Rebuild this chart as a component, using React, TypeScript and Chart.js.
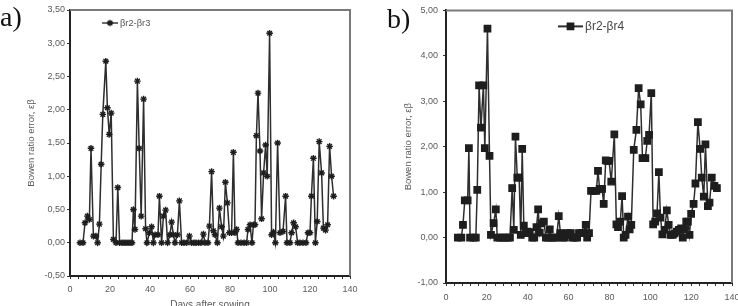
import { useEffect, useRef } from "react";
import { Chart, registerables } from "chart.js";
import { drawPoint } from "chart.js/helpers";

Chart.register(...registerables);

// Series a): βr2-βr3
const daysA = [
  5, 6.5, 7.5, 8.7, 9.7, 10.5, 11.7, 13.0, 13.8, 14.7, 15.6, 16.4, 17.9, 18.7, 19.6, 20.6,
  21.7, 23.0, 23.9, 24.8, 26, 27, 28, 29, 30, 31, 31.7, 32.5, 33.7, 34.6, 35.6, 36.8, 37.8,
  38.5, 39.7, 40.8, 41.7, 42.5, 44, 44.7, 45.8, 46.7, 47.8, 48.8, 50, 50.8, 51.7, 52.5, 53.7,
  54.7, 55.8, 57, 58.3, 59.7, 60.8, 62, 63, 64.3, 65.5, 66.7, 67.5, 69, 69.7, 70.8, 71.7, 72.5,
  73.7, 74.7, 75.8, 76.7, 77.7, 78.7, 79.7, 80.8, 81.7, 82.5, 83.3, 84, 85.5, 87, 88.3, 89, 90,
  91, 91.7, 92.5, 93.2, 94, 95, 95.8, 96.8, 97.8, 98.6, 99.8, 100.8, 101.7, 102.7, 103.8, 105,
  106.5, 107.8, 108.5, 110, 110.8, 111.8, 112.8, 113.8, 115, 116.5, 118, 119, 120, 120.7, 121.7,
  122.7, 123.6, 124.6, 125.8, 126.7, 127.8, 128.8, 129.8, 130.8, 131.8,
];
const errA = [
  0, 0, 0.3, 0.4, 0.35, 1.42, 0.1, 0.1, 0, 0.28, 1.18, 1.93, 2.73, 2.03, 1.63, 1.95,
  0.05, 0, 0.83, 0, 0, 0, 0, 0, 0, 0, 0.5, 0.2, 2.43, 1.42, 0.4, 2.16, 0.21,
  0, 0.15, 0.24, 0, 0.12, 0.12, 0.7, 0, 0.4, 0.49, 0, 0.12, 0.31, 0.12, 0, 0.12,
  0.63, 0, 0, 0, 0.1, 0, 0, 0, 0, 0, 0.13, 0, 0, 0.25, 1.07, 0.18, 0.12,
  0, 0.52, 0.24, 0.1, 0.91, 0.6, 0.15, 0.15, 1.36, 0.15, 0.2, 0, 0, 0, 0, 0.2, 0.27,
  0, 0.27, 0.27, 1.61, 2.25, 1.38, 0.36, 1.05, 1.47, 1.0, 3.15, 0.12, 0.16, 0, 1.5, 0.15,
  0.17, 0.7, 0, 0, 0.15, 0.3, 0.24, 0, 0, 0, 0, 0.15, 0.15, 0.7, 1.27,
  0, 0.32, 1.52, 1.05, 0.22, 0.19, 0.27, 1.45, 1.0, 0.7,
];

// Series b): βr2-βr4
const daysB = [
  5.8, 7.5, 8.3, 9.2, 10.6, 11.2, 11.8, 13.4, 14.6, 15.3, 16.2, 17.1, 18.3, 19.0, 20.3, 21.3,
  22.0, 23.3, 24.4, 25.1, 26.5, 27.8, 29.0, 30.3, 31.3, 32.4, 33.2, 34.0, 34.9, 35.8, 36.6,
  37.3, 38.1, 39.1, 39.9, 41.0, 42.2, 43.2, 44.3, 45.1, 45.9, 46.7, 47.9, 48.9, 50.0, 50.8,
  51.6, 52.8, 54.1, 55.2, 56.0, 57.0, 58.1, 59.3, 60.1, 61.1, 61.9, 63.0, 64.2, 65.1, 66.3,
  67.4, 68.4, 69.1, 70.0, 71.0, 72.3, 73.6, 74.4, 75.2, 76.4, 77.2, 78.2, 79.0, 79.8, 80.9,
  82.4, 83.4, 84.2, 85.3, 86.2, 87.0, 87.9, 89.1, 89.9, 90.7, 91.9, 93.2, 94.3, 95.3, 96.2,
  97.6, 98.5, 99.4, 100.5, 101.4, 102.4, 103.3, 104.2, 105.0, 105.9, 107.0, 108.1, 109.0,
  109.9, 111.0, 111.9, 113.0, 114.0, 115.1, 115.9, 116.8, 117.6, 118.4, 119.2, 120.0, 121.2,
  122.1, 123.3, 124.4, 125.2, 126.2, 127.0, 128.2, 129.0, 130.1, 131.4, 132.6,
];
const errB = [
  0, 0, 0.28, 0.82, 0.82, 1.97, 0, 0, 0, 1.05, 3.35, 2.42, 3.35, 1.97, 4.6, 1.8,
  0.06, 0.32, 0.62, 0, 0, 0, 0, 0, 0, 1.09, 0.17, 2.22, 1.32, 1.32, 0.06,
  1.95, 0.26, 0.1, 0.13, 0.12, 0, 0, 0.23, 0.62, 0.11, 0.31, 0.35, 0, 0, 0.18,
  0, 0, 0, 0.47, 0.1, 0, 0, 0.1, 0.06, 0.1, 0, 0, 0, 0.1, 0.1,
  0.1, 0.28, 0, 0.1, 1.03, 1.03, 1.03, 1.47, 1.07, 1.07, 0.74, 1.7, 1.69, 1.69, 1.23,
  2.27, 0.29, 0.23, 0.35, 0.91, 0, 0.06, 0.46, 0.18, 0.28, 1.93, 2.37, 3.29, 2.93, 1.75,
  1.75, 2.13, 2.26, 3.18, 0.29, 0.35, 0.53, 1.44, 0.44, 0.07, 0.17, 0.6, 0.28,
  0.06, 0.06, 0.09, 0.13, 0.17, 0.2, 0, 0.18, 0.35, 0.35, 0.06, 0.52, 0.74,
  1.19, 2.54, 1.95, 1.32, 0.9, 2.05, 0.69, 0.77, 1.32, 1.14, 1.09,
];

const labelA = "βr2-βr3";
const labelB = "βr2-βr4";
const yTitle = "Bowen ratio error, εβ";
const xTitle = "Days after sowing";

const FONT = '"Liberation Sans", Arial, sans-serif';
const TICK_COLOR = "#5a5a5a";

const commaDecimal = (v: number) => v.toFixed(2).replace(".", ",");

// Draws the grey top/right frame edges and a small legend inside the plot area.
const frameAndLegend = {
  id: "frameAndLegend",
  afterDatasetsDraw(chart: any, _args: any, opts: any) {
    const { ctx, chartArea: a } = chart;
    ctx.save();
    ctx.strokeStyle = opts.frameColor;
    ctx.lineWidth = 2;
    ctx.beginPath();
    ctx.moveTo(a.left, a.top);
    ctx.lineTo(a.right, a.top);
    ctx.lineTo(a.right, a.bottom);
    ctx.stroke();

    const ds = chart.data.datasets[0];
    const lx = a.left + opts.x;
    const ly = a.top + opts.y;
    ctx.strokeStyle = ds.borderColor;
    ctx.lineWidth = opts.lineWidth;
    ctx.beginPath();
    ctx.moveTo(lx, ly);
    ctx.lineTo(lx + opts.len, ly);
    ctx.stroke();
    ctx.fillStyle = ds.pointBackgroundColor;
    ctx.strokeStyle = ds.pointBorderColor;
    ctx.lineWidth = ds.pointBorderWidth;
    drawPoint(ctx, { pointStyle: ds.pointStyle, radius: ds.pointRadius, rotation: 0, borderWidth: ds.pointBorderWidth }, lx + opts.len / 2, ly);
    ctx.fillStyle = opts.textColor;
    ctx.font = `${opts.fontSize}px ${FONT}`;
    ctx.textBaseline = "middle";
    ctx.textAlign = "left";
    ctx.fillText(ds.label, lx + opts.len + 2, ly + 0.5);
    ctx.restore();
  },
};

type PanelProps = {
  label: string;
  days: number[];
  values: number[];
  yMin: number;
  yMax: number;
  yStep: number;
  width: number;
  height: number;
  plotLeft: number;
  plotRight: number;
  plotBottom: number;
  yTitleX: number;
  yTickPad: number;
  xTickPad: number;
  pointStyle: string;
  pointRadius: number;
  legend: { x: number; y: number; len: number; fontSize: number; textColor: string; lineWidth: number };
};

function Panel(p: PanelProps) {
  const ref = useRef<HTMLCanvasElement | null>(null);

  useEffect(() => {
    if (!ref.current) return;
    const titleFont = { family: FONT, size: 9.5 };
    const chart = new Chart(ref.current, {
      type: "line",
      data: {
        datasets: [
          {
            label: p.label,
            data: p.days.map((d, i) => ({ x: d, y: p.values[i] })),
            borderColor: "#2e2e2e",
            borderWidth: 1.5,
            pointStyle: p.pointStyle as any,
            pointRadius: p.pointRadius,
            pointBorderWidth: 1.4,
            pointBackgroundColor: "#1e1e1e",
            pointBorderColor: "#1e1e1e",
            tension: 0,
          } as any,
        ],
      },
      options: {
        animation: false,
        responsive: false,
        maintainAspectRatio: false,
        events: [],
        layout: { padding: { left: 0, top: 10, right: p.width - p.plotRight, bottom: 0 } },
        plugins: {
          legend: { display: false },
          tooltip: { enabled: false },
          frameAndLegend: { frameColor: "#7a7a7a", ...p.legend },
        } as any,
        scales: {
          x: {
            type: "linear",
            min: 0,
            max: 140,
            ticks: {
              stepSize: 4,
              autoSkip: false,
              maxRotation: 0,
              padding: p.xTickPad,
              color: TICK_COLOR,
              font: { family: FONT, size: 9 },
              callback: (v: any) => (Number(v) % 20 === 0 ? String(v) : ""),
            },
            grid: { display: true, drawOnChartArea: false, drawTicks: true, tickLength: 3, color: "#333" },
            border: { display: true, color: "#222", width: 2 },
            title: {
              display: true,
              text: xTitle,
              color: TICK_COLOR,
              font: { family: FONT, size: 10 },
              padding: { top: 0, bottom: 9 },
            },
            afterFit: (s: any) => {
              s.height = p.height - p.plotBottom;
            },
          },
          y: {
            type: "linear",
            min: p.yMin,
            max: p.yMax,
            ticks: {
              stepSize: p.yStep,
              padding: p.yTickPad,
              color: TICK_COLOR,
              font: { family: FONT, size: 9 },
              callback: (v: any) => commaDecimal(Number(v)),
            },
            grid: { display: true, drawOnChartArea: false, drawTicks: true, tickLength: 3, color: "#333" },
            border: { display: true, color: "#222", width: 2 },
            title: {
              display: true,
              text: yTitle,
              color: TICK_COLOR,
              font: titleFont,
              padding: { top: p.yTitleX - 5.7, bottom: 0 },
            },
            afterFit: (s: any) => {
              s.width = p.plotLeft;
            },
          },
        },
      },
      plugins: [frameAndLegend],
    } as any);
    return () => chart.destroy();
  }, []);

  return <canvas ref={ref} width={p.width} height={p.height} style={{ display: "block", width: p.width, height: p.height }} />;
}

const panelTag: React.CSSProperties = {
  position: "absolute",
  fontFamily: '"Liberation Serif", "DejaVu Serif", serif',
  fontSize: 28,
  lineHeight: "28px",
  color: "#111",
};

export default function App() {
  return (
    <div style={{ position: "fixed", left: 0, top: 0, width: 738, height: 306, overflow: "hidden", background: "#fff" }}>
      <div style={{ position: "absolute", left: 0, top: 0 }}>
        <Panel
          label={labelA}
          days={daysA}
          values={errA}
          yMin={-0.5}
          yMax={3.5}
          yStep={0.5}
          width={370}
          height={320}
          plotLeft={70}
          plotRight={350}
          plotBottom={276}
          yTitleX={31}
          yTickPad={2}
          xTickPad={5}
          pointStyle="star"
          pointRadius={3.3}
          legend={{ x: 32, y: 13, len: 16, fontSize: 9.3, textColor: "#555", lineWidth: 1.4 }}
        />
      </div>
      <div style={{ position: "absolute", left: 370, top: 0 }}>
        <Panel
          label={labelB}
          days={daysB}
          values={errB}
          yMin={-1}
          yMax={5}
          yStep={1}
          width={392}
          height={330}
          plotLeft={76}
          plotRight={362}
          plotBottom={283}
          yTitleX={38}
          yTickPad={5}
          xTickPad={6}
          pointStyle="rect"
          pointRadius={4.5}
          legend={{ x: 112, y: 16, len: 25, fontSize: 12, textColor: "#444", lineWidth: 2 }}
        />
      </div>
      <div style={{ ...panelTag, left: 0, top: 3 }}>a)</div>
      <div style={{ ...panelTag, left: 387, top: 5 }}>b)</div>
    </div>
  );
}
